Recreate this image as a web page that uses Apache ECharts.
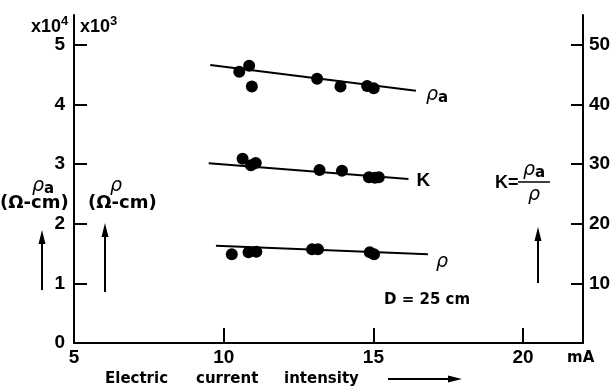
<!DOCTYPE html>
<html>
<head>
<meta charset="utf-8">
<script src="https://cdn.jsdelivr.net/npm/echarts@6/dist/echarts.min.js"></script>
<style>
html,body{margin:0;padding:0;background:#fff;}
#c{width:614px;height:388px;}
</style>
</head>
<body>
<div id="c"></div>
<script>
// ---- data ----
// apparent resistivity rho_a (x10^4 ohm-cm) vs current (mA)
const rhoA_I = [10.52, 10.85, 10.94, 13.12, 13.90, 14.79, 15.01];
const rhoA_V = [4.55, 4.65, 4.30, 4.43, 4.30, 4.31, 4.27];
// K = rho_a / rho (right axis)
const K_I = [10.63, 10.91, 11.07, 13.20, 13.95, 14.85, 15.05, 15.18];
const K_V = [30.9, 29.8, 30.2, 29.0, 28.9, 27.8, 27.7, 27.8];
// resistivity rho (x10^3 ohm-cm)
const rho_I = [10.27, 10.83, 11.09, 12.95, 13.15, 14.88, 15.02];
const rho_V = [1.49, 1.52, 1.53, 1.57, 1.57, 1.52, 1.49];
// fitted straight lines (end points)
const rhoA_fitI = [9.55, 16.42], rhoA_fitV = [4.66, 4.23];
const K_fitI = [9.50, 16.17], K_fitV = [30.15, 27.52];
const rho_fitI = [9.74, 16.82], rho_fitV = [1.63, 1.49];
// axes
const xMin = 5, xMax = 22, xStep = 5;
const yMax = 5.5, yStep = 1;
const kMax = 55, kStep = 10;

const zip = (a, b) => a.map((v, i) => [v, b[i]]);
const FONT = 'DejaVu Sans';
const NUMF = 'Liberation Sans';
const lbl = {color: '#000', fontFamily: NUMF, fontWeight: 'bold', fontSize: 19};

const chart = echarts.init(document.getElementById('c'), null, {renderer: 'canvas'});

function dots(name, I, V, yIdx) {
  return {name, type: 'scatter', yAxisIndex: yIdx, data: zip(I, V), symbol: 'circle', symbolSize: 12,
    itemStyle: {color: '#000', opacity: 1}, z: 5};
}
function fit(name, I, V, yIdx, text, off) {
  return {name, type: 'line', yAxisIndex: yIdx, data: zip(I, V), showSymbol: false, symbol: 'none',
    lineStyle: {color: '#000', width: 2}, z: 4,
    endLabel: {show: true, formatter: text, offset: off, color: '#000', fontFamily: FONT,
      fontSize: 16, distance: 8,
      rich: {r: {fontFamily: FONT, fontSize: 19, fontStyle: 'italic', color: '#000'},
             s: {fontFamily: FONT, fontSize: 15, fontWeight: 'bold', color: '#000', padding: [6, 0, 0, 0]},
             k: {fontFamily: NUMF, fontSize: 19, fontWeight: 'bold', fontStyle: 'normal', color: '#000'}}}};
}

function arrowUp(x, yTop, yBot) {
  return [
    {type: 'line', shape: {x1: x, y1: yTop + 8, x2: x, y2: yBot}, style: {stroke: '#000', lineWidth: 2}},
    {type: 'polygon', shape: {points: [[x, yTop], [x - 3.5, yTop + 14], [x + 3.5, yTop + 14]]}, style: {fill: '#000'}}
  ];
}
function txt(x, y, t, size, extra) {
  return {type: 'text', x, y, style: Object.assign({text: t, fill: '#000', fontFamily: FONT,
    fontWeight: 'bold', fontSize: size, verticalAlign: 'middle'}, extra || {})};
}
function rhoA(x, y) {
  return {type: 'text', x, y, style: {text: '{r|ρ}{s|a}', verticalAlign: 'middle',
    rich: {r: {fontFamily: FONT, fontSize: 19, fontStyle: 'italic', fill: '#000'},
           s: {fontFamily: FONT, fontSize: 15, fontWeight: 'bold', fill: '#000', padding: [6, 0, 0, 0]}}}};
}
function power(x, y, exp) {
  return [
    txt(x, y, 'x10', 18, {fontFamily: NUMF}),
    txt(x + 30, y - 6, exp, 13, {fontFamily: NUMF})
  ];
}

const graphics = [].concat(
  power(31, 27, '4'),
  power(80, 27, '3'),
  rhoA(32, 186),
  txt(0, 203, '(Ω-cm)', 18),
  txt(110, 186, 'ρ', 19, {fontStyle: 'italic', fontWeight: 'normal'}),
  txt(88, 203, '(Ω-cm)', 18),
  arrowUp(42, 230, 290),
  arrowUp(105, 223, 292),
  arrowUp(538, 227, 283),
  txt(495, 183, 'K=', 18, {fontFamily: NUMF}),
  [{type: 'line', shape: {x1: 518, y1: 182, x2: 550, y2: 182}, style: {stroke: '#000', lineWidth: 1.5}}],
  rhoA(523, 170),
  txt(528, 195, 'ρ', 19, {fontStyle: 'italic', fontWeight: 'normal'}),
  txt(384, 300, 'D = 25 cm', 15),
  txt(567, 358, 'mA', 15),
  txt(105, 379, 'Electric', 15),
  txt(196, 379, 'current', 15),
  txt(284, 379, 'intensity', 15),
  [{type: 'line', shape: {x1: 388, y1: 379, x2: 450, y2: 379}, style: {stroke: '#000', lineWidth: 2}},
   {type: 'polygon', shape: {points: [[462, 379], [448, 375.5], [448, 382.5]]}, style: {fill: '#000'}}]
);

chart.setOption({
  animation: false,
  backgroundColor: '#fff',
  grid: {left: 74, right: 31, top: 15, bottom: 45},
  xAxis: {type: 'value', min: xMin, max: xMax, interval: xStep,
    axisLine: {lineStyle: {color: '#000', width: 2}},
    axisTick: {inside: true, length: 15, lineStyle: {color: '#000', width: 2}},
    axisLabel: Object.assign({margin: 5, showMaxLabel: false, showMinLabel: true}, lbl),
    splitLine: {show: false}},
  yAxis: [
    {type: 'value', min: 0, max: yMax, interval: yStep, position: 'left',
      axisLine: {show: true, lineStyle: {color: '#000', width: 2}},
      axisTick: {show: true, inside: true, length: 13, lineStyle: {color: '#000', width: 2}},
      axisLabel: Object.assign({margin: 9, showMaxLabel: false}, lbl),
      splitLine: {show: false}},
    {type: 'value', min: 0, max: kMax, interval: kStep, position: 'right',
      axisLine: {show: true, lineStyle: {color: '#000', width: 2}},
      axisTick: {show: true, inside: true, length: 12, lineStyle: {color: '#000', width: 2}},
      axisLabel: Object.assign({margin: 6, showMaxLabel: false, showMinLabel: false}, lbl),
      splitLine: {show: false}}
  ],
  series: [
    fit('rhoA fit', rhoA_fitI, rhoA_fitV, 0, '{r|ρ}{s|a}', [2, 4]),
    dots('rhoA', rhoA_I, rhoA_V, 0),
    fit('K fit', K_fitI, K_fitV, 1, '{k|K}', [0, 2]),
    dots('K', K_I, K_V, 1),
    fit('rho fit', rho_fitI, rho_fitV, 0, '{r|ρ}', [0, 8]),
    dots('rho', rho_I, rho_V, 0)
  ],
  graphic: graphics
});
</script>
</body>
</html>
